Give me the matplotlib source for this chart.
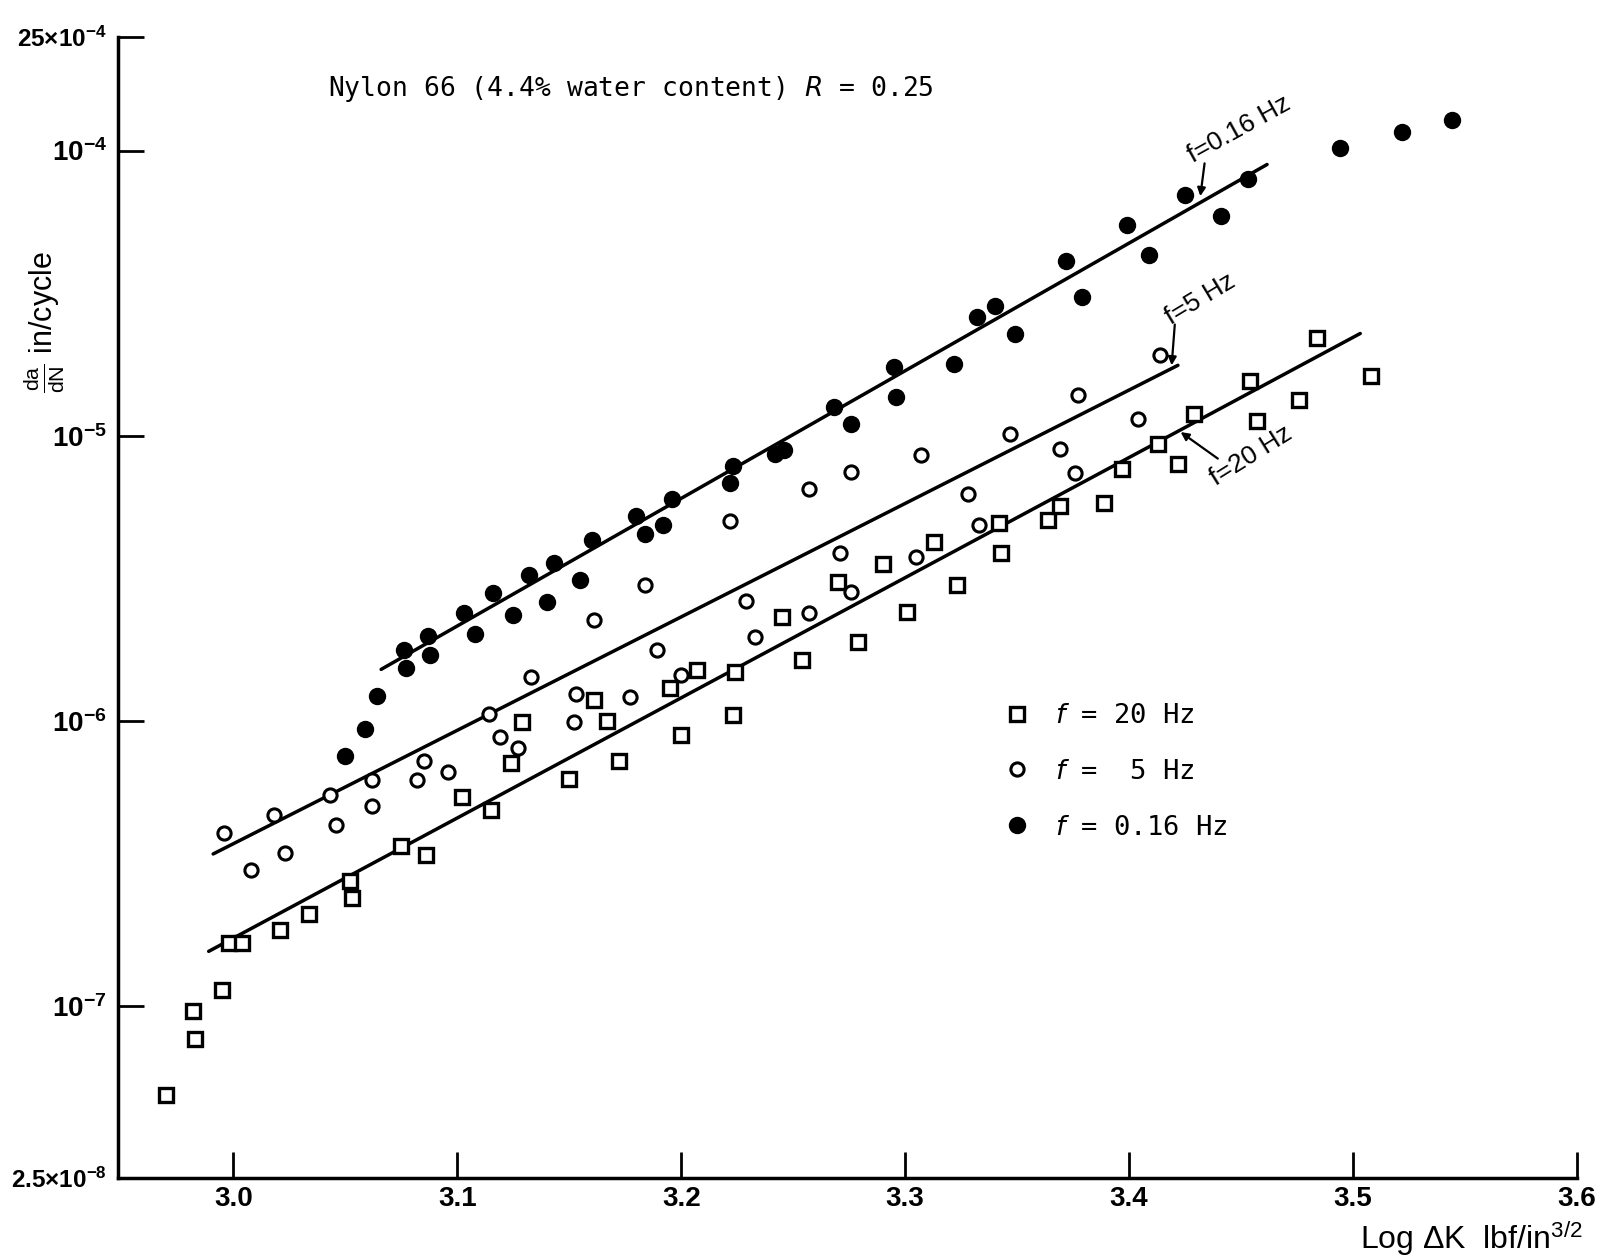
import matplotlib
matplotlib.use("Agg")
import matplotlib.pyplot as plt
import numpy as np

plt.rcParams["mathtext.default"] = "regular"

# ---------------- data ----------------
# x: log dK ; y values given as log10(da/dN)
x_016 = [3.050, 3.059, 3.064, 3.076, 3.077, 3.087, 3.088, 3.103, 3.108, 3.116,
         3.125, 3.132, 3.140, 3.143, 3.155, 3.160, 3.180, 3.184, 3.192, 3.196,
         3.222, 3.223, 3.242, 3.246, 3.268, 3.276, 3.295, 3.296, 3.322, 3.332,
         3.340, 3.349, 3.372, 3.379, 3.399, 3.409, 3.425, 3.441, 3.453, 3.494,
         3.522, 3.544]
logy_016 = [-6.121, -6.028, -5.913, -5.751, -5.813, -5.701, -5.769, -5.622, -5.694, -5.550,
            -5.629, -5.489, -5.583, -5.446, -5.507, -5.364, -5.281, -5.346, -5.313, -5.220,
            -5.166, -5.105, -5.065, -5.051, -4.900, -4.958, -4.760, -4.864, -4.749, -4.584,
            -4.545, -4.645, -4.387, -4.512, -4.261, -4.365, -4.157, -4.228, -4.099, -3.991,
            -3.934, -3.894]

x_5 = [2.996, 3.008, 3.018, 3.023, 3.043, 3.046, 3.062, 3.062, 3.082, 3.085,
       3.096, 3.114, 3.119, 3.127, 3.133, 3.153, 3.152, 3.161, 3.177, 3.184,
       3.189, 3.200, 3.222, 3.229, 3.233, 3.257, 3.257, 3.271, 3.276, 3.276,
       3.305, 3.307, 3.328, 3.333, 3.347, 3.369, 3.376, 3.377, 3.404, 3.414]
logy_5 = [-6.394, -6.524, -6.330, -6.463, -6.261, -6.366, -6.208, -6.297, -6.208, -6.139,
          -6.179, -5.974, -6.057, -6.093, -5.845, -5.906, -6.003, -5.647, -5.917, -5.522,
          -5.751, -5.838, -5.299, -5.579, -5.705, -5.622, -5.188, -5.410, -5.126, -5.547,
          -5.425, -5.069, -5.205, -5.313, -4.994, -5.047, -5.130, -4.857, -4.940, -4.717]

x_20 = [2.970, 2.983, 2.982, 2.995, 2.998, 3.004, 3.021, 3.034, 3.053, 3.052,
        3.075, 3.086, 3.102, 3.115, 3.124, 3.129, 3.150, 3.161, 3.167, 3.172,
        3.195, 3.207, 3.200, 3.223, 3.224, 3.245, 3.254, 3.270, 3.279, 3.290,
        3.301, 3.313, 3.323, 3.342, 3.343, 3.364, 3.369, 3.389, 3.397, 3.413,
        3.422, 3.429, 3.454, 3.457, 3.476, 3.484, 3.508]
logy_20 = [-7.310, -7.116, -7.016, -6.944, -6.779, -6.779, -6.732, -6.678, -6.621, -6.560,
           -6.438, -6.470, -6.265, -6.312, -6.147, -6.003, -6.204, -5.927, -5.999, -6.139,
           -5.884, -5.820, -6.050, -5.978, -5.827, -5.636, -5.787, -5.514, -5.723, -5.450,
           -5.619, -5.371, -5.522, -5.306, -5.410, -5.295, -5.245, -5.234, -5.116, -5.029,
           -5.098, -4.925, -4.807, -4.950, -4.875, -4.659, -4.792]

# fitted lines (end points)
fit_016_x = [3.066, 3.4616]
fit_016_logy = [-5.819, -4.049]
fit_5_x = [2.991, 3.4218]
fit_5_logy = [-6.466, -4.753]
fit_20_x = [2.989, 3.5032]
fit_20_logy = [-6.8075, -4.6415]

xticks = [3.0, 3.1, 3.2, 3.3, 3.4, 3.5, 3.6]
xticklabels = ["3.0", "3.1", "3.2", "3.3", "3.4", "3.5", "3.6"]
yticks = [2.5e-8, 1e-7, 1e-6, 1e-5, 1e-4, 2.5e-4]
yticklabels = [r"2.5×10$^{-8}$", r"10$^{-7}$", r"10$^{-6}$", r"10$^{-5}$",
               r"10$^{-4}$", r"25×10$^{-4}$"]

legend_labels = [r"$\mathit{f}$ = 20 Hz", r"$\mathit{f}$ =  5 Hz", r"$\mathit{f}$ = 0.16 Hz"]
title_text = r"Nylon 66 (4.4% water content) $\mathit{R}$ = 0.25"

# ---------------- figure ----------------
W, H = 1605, 1255
fig = plt.figure(figsize=(W / 100, H / 100), dpi=100)
fig.patch.set_facecolor("white")
ax = fig.add_axes([118 / W, 77 / H, (1577 - 118) / W, (1178 - 37) / H])

sans = ["Liberation Sans Narrow", "Liberation Sans", "DejaVu Sans"]
mono = ["DejaVu Sans Mono"]

to_val = lambda arr: np.power(10.0, np.asarray(arr))

# fits
for fx, fy in [(fit_016_x, fit_016_logy), (fit_5_x, fit_5_logy), (fit_20_x, fit_20_logy)]:
    ax.plot(fx, to_val(fy), color="black", lw=2.5, solid_capstyle="round", zorder=2)

# data
h20, = ax.plot(x_20, to_val(logy_20), linestyle="none", marker="s", markersize=10.5,
               markerfacecolor="white", markeredgecolor="black", markeredgewidth=2.4, zorder=3)
h5, = ax.plot(x_5, to_val(logy_5), linestyle="none", marker="o", markersize=9.5,
              markerfacecolor="white", markeredgecolor="black", markeredgewidth=2.2, zorder=3)
h016, = ax.plot(x_016, to_val(logy_016), linestyle="none", marker="o", markersize=11.5,
                markerfacecolor="black", markeredgecolor="black", zorder=3)

ax.set_yscale("log")
ax.set_xlim(2.9485, 3.6)
ax.set_ylim(2.5e-8, 2.5e-4)

for s in ["top", "right"]:
    ax.spines[s].set_visible(False)
for s in ["left", "bottom"]:
    ax.spines[s].set_linewidth(2.5)

ax.set_xticks(xticks)
ax.set_xticklabels(xticklabels, family=sans, fontsize=20, fontweight="bold")
ax.set_yticks(yticks)
ax.set_yticklabels(yticklabels, family=sans, fontsize=20, fontweight="bold")
for lab in ax.get_yticklabels():
    if "×" in lab.get_text():
        lab.set_fontsize(17.5)
ax.yaxis.set_minor_locator(matplotlib.ticker.NullLocator())
ax.tick_params(axis="both", direction="in", length=19, width=2.0, colors="black")
ax.tick_params(axis="x", pad=6)
ax.tick_params(axis="y", pad=8)

# title
fig.text(328 / W, 1 - 89 / H, title_text, family=mono, fontsize=19,
         ha="left", va="center")

# axis labels
fig.text(1583 / W, 1 - 1238 / H, r"Log $\Delta$K  lbf/in$^{3/2}$", family=sans,
         fontsize=23, ha="right", va="center")
fig.text(44 / W, 1 - 322 / H, r"$\frac{da}{dN}$ in/cycle", family=sans,
         fontsize=22, rotation=90, ha="center", va="center")

# legend
leg = ax.legend([h20, h5, h016], legend_labels, loc="upper left",
                bbox_to_anchor=(1001 / W, 1 - 703 / H), bbox_transform=fig.transFigure,
                frameon=False, prop={"family": mono, "size": 19.5},
                labelspacing=1.1, handletextpad=0.8, handlelength=1.2,
                borderaxespad=0, borderpad=0)

# annotations
arrow_kw = dict(arrowstyle="-|>", color="black", lw=1.6, mutation_scale=12,
                shrinkA=0, shrinkB=0)
ann_text = [("f=0.16 Hz", 3.4286, -4.045, 29),
            ("f=5 Hz", 3.4186, -4.613, 31),
            ("f=20 Hz", 3.4387, -5.177, 32)]
ann_arrows = [((3.4337, -4.045), (3.4318, -4.160)),
              ((3.4204, -4.610), (3.4190, -4.753)),
              ((3.4396, -5.080), (3.4230, -4.987))]
for (txt, tx, ty, rot) in ann_text:
    ax.text(tx, 10 ** ty, txt, family=sans, fontsize=19, rotation=rot,
            rotation_mode="anchor", ha="left", va="baseline")
for (tail, tip) in ann_arrows:
    ax.annotate("", xy=(tip[0], 10 ** tip[1]), xytext=(tail[0], 10 ** tail[1]),
                arrowprops=arrow_kw)

fig.savefig("out.png", dpi=100)
